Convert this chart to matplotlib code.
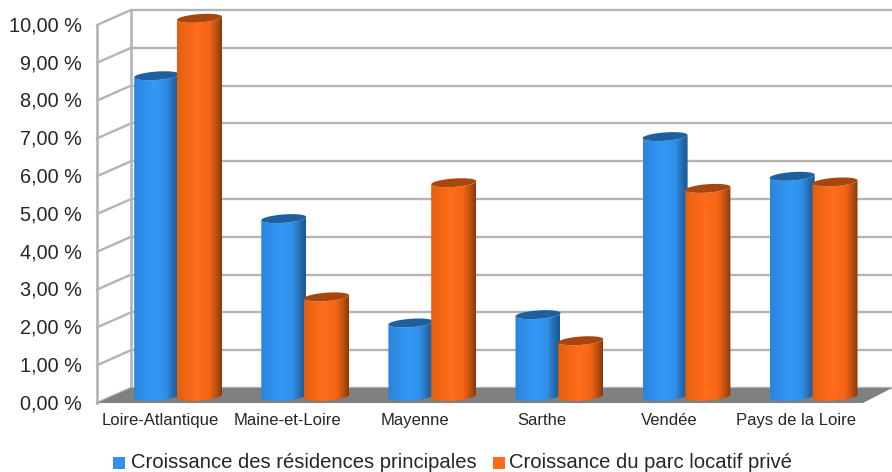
# 3D-look cylinder chart: growth of main residences vs private rental stock, Pays de la Loire
import numpy as np
import matplotlib
matplotlib.use("Agg")
import matplotlib.pyplot as plt
import matplotlib.patches as mpatches
from matplotlib.path import Path
from matplotlib.colors import LinearSegmentedColormap

plt.rcParams["font.family"] = ["Liberation Sans", "DejaVu Sans"]

categories = ["Loire-Atlantique", "Maine-et-Loire", "Mayenne", "Sarthe", "Vendée", "Pays de la Loire"]
residences = [8.48, 4.70, 1.94, 2.16, 6.87, 5.82]
parc_locatif = [10.0, 2.63, 5.65, 1.47, 5.50, 5.67]
y_ticks = list(range(11))
y_tick_labels = [f"{v},00 %" for v in y_ticks]
series_names = ["Croissance des résidences principales", "Croissance du parc locatif privé"]

W, H = 892, 472
PX_Y = 37.8    # pixels per percentage point
PX_X = 127.1   # pixels per category
X0 = 177       # pixel of the first category centre on the bar plane
Y0 = 403       # pixel of the front floor edge

fig = plt.figure(figsize=(W / 100, H / 100), dpi=100)
ax = fig.add_axes([0, 0, 1, 1])
ax.set_xlim(-X0 / PX_X, (W - X0) / PX_X)
ax.set_ylim((Y0 - H) / PX_Y, Y0 / PX_Y)
ax.autoscale(False)
ax.axis("off")

# depth of the box and of the bar plane, in data units
depth_x = 34 / PX_X
depth_y = 15 / PX_Y
plane_y = 6.7 / PX_Y
front_x = (97 - X0) / PX_X
back_x = front_x + depth_x
right_x = (W - X0) / PX_X
floor_right = (863 - X0) / PX_X

GRID = "#b4b4b4"
for v in y_ticks:
    ax.plot([back_x, right_x], [v + depth_y] * 2, color=GRID, lw=1.7, zorder=1, solid_capstyle="butt")
    ax.plot([front_x, back_x], [v, v + depth_y], color=GRID, lw=1.7, zorder=1)
ax.plot([back_x, back_x], [depth_y, 10 + depth_y], color=GRID, lw=1.9, zorder=1)
ax.plot([front_x, front_x], [0, 10], color=GRID, lw=1.9, zorder=1)

ax.add_patch(mpatches.Polygon(
    [(front_x, 0), (back_x, depth_y), (right_x, depth_y), (floor_right, 0)],
    closed=True, facecolor="#808080", edgecolor="none", zorder=2))

blue_cmap = LinearSegmentedColormap.from_list(
    "blue", [(0, "#2b84dd"), (0.45, "#3399f7"), (0.72, "#2f8fe6"), (0.88, "#2569ad"), (1, "#1c5792")])
orange_cmap = LinearSegmentedColormap.from_list(
    "orange", [(0, "#e45f10"), (0.45, "#ff6d1b"), (0.72, "#f56515"), (0.88, "#bb5011"), (1, "#85390b")])
gradient = np.linspace(0, 1, 256).reshape(1, -1)

bar_w = 45 / PX_X
bar_step = 42.8 / PX_X
cap_h = 4.2 / PX_Y
cap_tilt = 1.6 / PX_Y


def cap_points(centre, level, t):
    # tilted ellipse, the right side sits a little higher than the left
    return np.column_stack([centre + bar_w / 2 * np.cos(t),
                            level + cap_h * np.sin(t) + cap_tilt * np.cos(t)])


def draw_cylinder(left, value, cmap, cap_color, z):
    right = left + bar_w
    centre = left + bar_w / 2
    top = value + plane_y
    lower = np.linspace(np.pi, 2 * np.pi, 40)
    base_arc = cap_points(centre, plane_y, lower)
    top_arc = cap_points(centre, top, lower[::-1])
    outline = Path(np.vstack([base_arc, top_arc, base_arc[:1]]), closed=True)
    im = ax.imshow(gradient, cmap=cmap, extent=[left, right, plane_y - 2 * cap_h, top + 2 * cap_h],
                   aspect="auto", zorder=z, interpolation="bilinear")
    im.set_clip_path(mpatches.PathPatch(outline, transform=ax.transData))
    ring = cap_points(centre, top, np.linspace(0, 2 * np.pi, 80))
    ax.add_patch(mpatches.Polygon(ring, closed=True, facecolor=cap_color,
                                  edgecolor="none", zorder=z + 0.1))


for i in range(len(categories)):
    draw_cylinder(i - bar_step, residences[i], blue_cmap, "#1d5f9f", 3 + i)
    draw_cylinder(i, parc_locatif[i], orange_cmap, "#a8470d", 3.5 + i)

TEXT = "#262626"
for v, label in zip(y_ticks, y_tick_labels):
    ax.text((82 - X0) / PX_X, v - 0.02, label, ha="right", va="center", fontsize=14.3, color=TEXT)

for i, name in enumerate(categories):
    ax.text(i - 16.5 / PX_X, -17.5 / PX_Y, name, ha="center", va="center", fontsize=12, color=TEXT)

# legend placed by hand under the plot
legend_y = (Y0 - 463) / PX_Y
for px, text_px, name, col in zip([113, 493], [131, 509], series_names, ["#3090ec", "#ff6a18"]):
    ax.add_patch(mpatches.Rectangle(((px - X0) / PX_X, legend_y - 6 / PX_Y), 12 / PX_X, 12 / PX_Y,
                                    facecolor=col, edgecolor="none"))
    ax.text((text_px - X0) / PX_X, legend_y, name, ha="left", va="center", fontsize=14.6, color=TEXT)

fig.savefig("out.png", dpi=100)
